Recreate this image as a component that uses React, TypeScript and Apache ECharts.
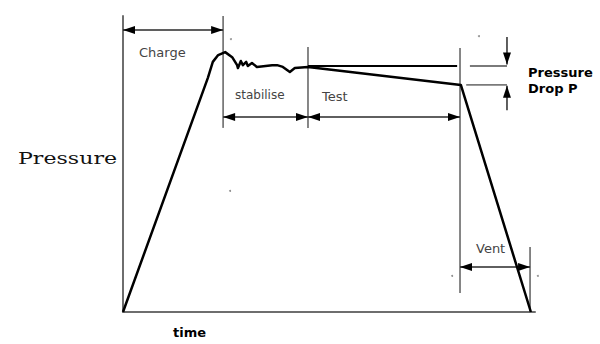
import React, { useEffect, useRef } from "react";
import * as echarts from "echarts";

// Pressure curve (time units 0..100, pressure units 0..100)
const curveTime = [0, 20.6, 21.8, 23.1, 24.8, 26.5, 27.7, 27.9, 28.6, 29.1, 29.9, 30.3, 31.3, 32.5, 36.2, 37.4, 38.8, 40.5, 41.7, 44.9, 82.0, 99.0];
const curvePressure = [0, 79.1, 84.5, 86.8, 87.8, 86.1, 83.4, 82.4, 84.8, 83.4, 84.5, 83.1, 84.1, 82.8, 83.4, 83.4, 82.8, 81.1, 82.4, 82.8, 76.7, 0];

// Phase boundaries (gray guide segments): [t1, p1, t2, p2]
const guideSegments = [
  [24.3, 100, 24.3, 62.2],
  [44.9, 89.5, 44.9, 62.2],
  [81.8, 89.2, 81.8, 6.4],
  [98.8, 22.0, 98.8, 0],
  [84.2, 83.1, 93.2, 83.1],
  [83.3, 76.7, 93.2, 76.7],
];

// Initial pressure reference line (black)
const referenceLine = [[44.9, 83.1, 81.1, 83.1]];

// Dimension arrows: [t1, p1, t2, p2, headAtStart, headAtEnd]
const phaseArrows = [
  [0, 95.3, 24.3, 95.3, 1, 1],
  [24.3, 65.9, 44.9, 65.9, 1, 1],
  [44.9, 65.9, 81.8, 65.9, 1, 1],
  [81.8, 15.2, 98.8, 15.2, 1, 1],
  [93.2, 92.9, 93.2, 83.6, 0, 1],
  [93.2, 68.2, 93.2, 76.4, 0, 1],
];

// Stray specks in the scan
const specks = [
  [26.2, 92.2],
  [86.4, 93.2],
  [26.0, 40.9],
  [79.9, 12.2],
  [100.7, 12.2],
];

function renderSegment(color: string, width: number) {
  return (params: any, api: any) => {
    const a = api.coord([api.value(0), api.value(1)]);
    const b = api.coord([api.value(2), api.value(3)]);
    return {
      type: "line",
      shape: { x1: a[0], y1: a[1], x2: b[0], y2: b[1] },
      style: { stroke: color, lineWidth: width },
      silent: true,
    };
  };
}

function renderArrow(params: any, api: any) {
  const a = api.coord([api.value(0), api.value(1)]);
  const b = api.coord([api.value(2), api.value(3)]);
  const hs = api.value(4);
  const he = api.value(5);
  const dx = b[0] - a[0];
  const dy = b[1] - a[1];
  const len = Math.sqrt(dx * dx + dy * dy) || 1;
  const ux = dx / len;
  const uy = dy / len;
  const nx = -uy;
  const ny = ux;
  const L = 12;
  const W = 4;
  const children: any[] = [
    {
      type: "line",
      shape: { x1: a[0], y1: a[1], x2: b[0], y2: b[1] },
      style: { stroke: "#2a2a2a", lineWidth: 1.5 },
    },
  ];
  const head = (tip: number[], dir: number) => ({
    type: "polygon",
    shape: {
      points: [
        [tip[0], tip[1]],
        [tip[0] + dir * ux * L + nx * W, tip[1] + dir * uy * L + ny * W],
        [tip[0] + dir * ux * L - nx * W, tip[1] + dir * uy * L - ny * W],
      ],
    },
    style: { fill: "#000" },
  });
  if (hs) children.push(head(a, 1));
  if (he) children.push(head(b, -1));
  return { type: "group", children, silent: true };
}

export default function App() {
  const ref = useRef<HTMLDivElement>(null);
  useEffect(() => {
    if (!ref.current) return;
    const chart = echarts.init(ref.current, null, { renderer: "svg" });
    const sans = "DejaVu Sans";
    chart.setOption({
      animation: false,
      backgroundColor: "#fff",
      grid: { left: 123, top: 16, right: 65, bottom: 32 },
      xAxis: {
        type: "value",
        min: 0,
        max: 100,
        axisLine: { show: true, lineStyle: { color: "#6e6e6e", width: 2 } },
        axisTick: { show: false },
        axisLabel: { show: false },
        splitLine: { show: false },
      },
      yAxis: {
        type: "value",
        min: 0,
        max: 100,
        axisLine: { show: true, lineStyle: { color: "#6e6e6e", width: 2 } },
        axisTick: { show: false },
        axisLabel: { show: false },
        splitLine: { show: false },
      },
      series: [
        {
          type: "custom",
          name: "guides",
          coordinateSystem: "cartesian2d",
          renderItem: renderSegment("#7a7a7a", 1.8),
          data: guideSegments,
          encode: { x: [0, 2], y: [1, 3] },
          silent: true,
        },
        {
          type: "custom",
          name: "reference",
          coordinateSystem: "cartesian2d",
          renderItem: renderSegment("#000", 2),
          data: referenceLine,
          encode: { x: [0, 2], y: [1, 3] },
          silent: true,
        },
        {
          type: "custom",
          name: "arrows",
          coordinateSystem: "cartesian2d",
          renderItem: renderArrow,
          data: phaseArrows,
          encode: { x: [0, 2], y: [1, 3] },
          silent: true,
        },
        {
          type: "line",
          name: "Pressure",
          data: curveTime.map((t, i) => [t, curvePressure[i]]),
          showSymbol: false,
          symbol: "none",
          lineStyle: { color: "#000", width: 2.5, join: "round" },
          silent: true,
        },
        {
          type: "scatter",
          name: "specks",
          data: specks,
          symbolSize: 2,
          itemStyle: { color: "#777" },
          clip: false,
          silent: true,
        },
      ],
      graphic: [
        { type: "text", x: 139, y: 52, style: { text: "Charge", font: `13px "${sans}"`, fill: "#444", textVerticalAlign: "middle" } },
        { type: "text", x: 235, y: 95, style: { text: "stabilise", font: `12px "${sans}"`, fill: "#444", textVerticalAlign: "middle" } },
        { type: "text", x: 322, y: 96, style: { text: "Test", font: `13px "${sans}"`, fill: "#444", textVerticalAlign: "middle" } },
        { type: "text", x: 476, y: 248, style: { text: "Vent", font: `13px "${sans}"`, fill: "#444", textVerticalAlign: "middle" } },
        { type: "text", x: 528, y: 72, style: { text: "Pressure", font: `bold 13px "${sans}"`, fill: "#000", textVerticalAlign: "middle" } },
        { type: "text", x: 528, y: 88, style: { text: "Drop P", font: `bold 13px "${sans}"`, fill: "#000", textVerticalAlign: "middle" } },
        { type: "text", x: 173, y: 332, style: { text: "time", font: `bold 13px "${sans}"`, fill: "#000", textVerticalAlign: "middle" } },
        { type: "text", x: 18, y: 158, scaleX: 1.3, style: { text: "Pressure", font: `17px "DejaVu Serif"`, fill: "#111", textVerticalAlign: "middle" } },
      ],
    });
    return () => chart.dispose();
  }, []);
  return (
    <div
      ref={ref}
      style={{ position: "fixed", left: 0, top: 0, width: 600, height: 344, background: "#fff" }}
    />
  );
}
